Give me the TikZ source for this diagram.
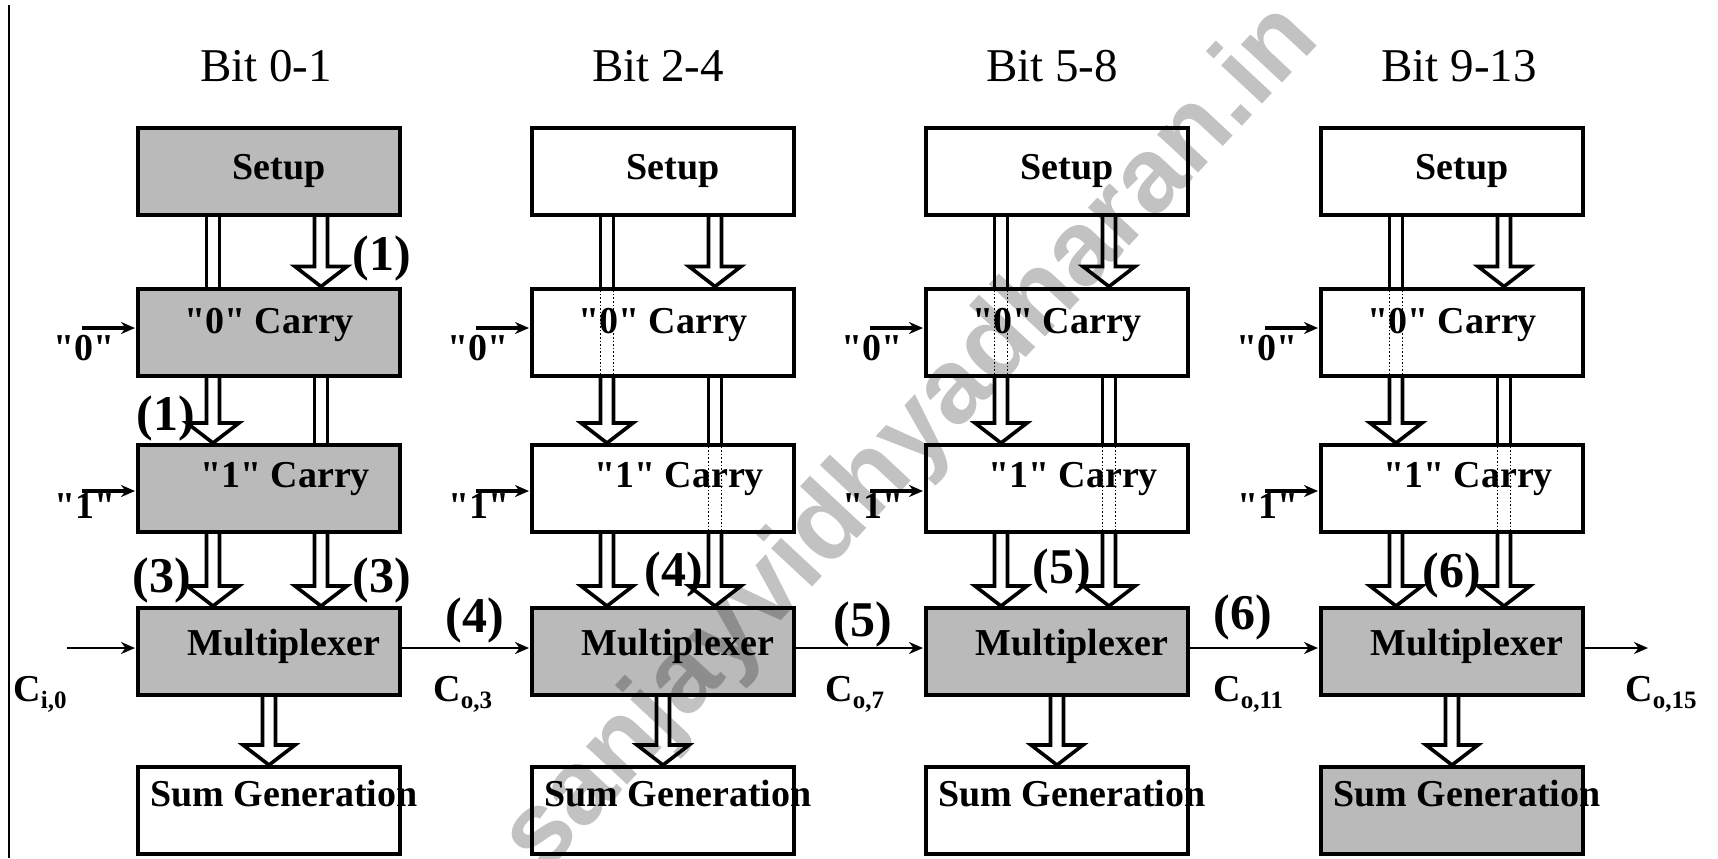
\documentclass[tikz,border=0pt]{standalone}
\usepackage{fontspec}
\setmainfont{Liberation Serif}[Ligatures=TeXOff]
\newfontfamily\wmfont{Liberation Sans}
\usetikzlibrary{calc,arrows.meta}
\newcommand{\csub}[1]{\raisebox{-3.5pt}{\fontsize{12.5}{12.5}\selectfont #1}}
\newcommand{\blockarr}[2]{%
  \draw[pipe] let \p1=(#1), \p2=(#2) in
    (\x1-3.25pt,\y1) -- (\x1-3.25pt,\y2+10pt) -- (\x1-13pt,\y2+10pt) -- (\x1,\y2)
    -- (\x1+13pt,\y2+10pt) -- (\x1+3.25pt,\y2+10pt) -- (\x1+3.25pt,\y1);}
\newcommand{\throughpipe}[3]{%
  \draw[#3] let \p1=(#1), \p2=(#2) in
    (\x1-3.25pt,\y1) -- (\x1-3.25pt,\y2) (\x1+3.25pt,\y1) -- (\x1+3.25pt,\y2);}
\begin{document}
\begin{tikzpicture}[x=0.5pt,y=-0.5pt,
  box/.style={draw=black, line width=2pt, minimum width=131pt, minimum height=43.5pt, inner sep=0pt, fill=white},
  shaded/.style={box, fill=black!27},
  boxtext/.style={font=\bfseries\fontsize{19}{19}\selectfont, anchor=base, inner sep=0pt},
  title/.style={font=\fontsize{23.5}{24}\selectfont, anchor=base, inner sep=0pt},
  num/.style={font=\bfseries\fontsize{25}{25}\selectfont, inner sep=0pt},
  inlabel/.style={font=\bfseries\fontsize{19}{19}\selectfont, anchor=base, inner sep=0pt},
  clabel/.style={font=\bfseries\fontsize{19}{19}\selectfont, anchor=base west, inner sep=0pt},
  pipe/.style={line width=1.8pt, line join=miter},
  wall/.style={line width=1.8pt},
  dots/.style={line width=0.8pt, densely dotted},
  chain/.style={line width=1.2pt, -{Stealth[length=7pt,width=6pt]}},
  inarrow/.style={line width=1.6pt, -{Stealth[length=7pt,width=6pt]}},
  wm/.style={font=\wmfont\bfseries\fontsize{53}{53}\selectfont, text=black, text opacity=0.24, inner sep=0pt}
]
\useasboundingbox (0,0) rectangle (1718,858);

% left rule
\coordinate (lt) at (9,5);
\coordinate (lb) at (9,858);
\draw[line width=1pt] (lt) -- (lb);

% titles
\node[title] (t1) at (266,81) {Bit 0-1};
\node[title] (t2) at (658,81) {Bit 2-4};
\node[title] (t3) at (1052,81) {Bit 5-8};
\node[title] (t4) at (1459,81) {Bit 9-13};

% boxes
\node[shaded] (s1) at (269,171.5) {};
\node[shaded] (z1) at (269,332) {};
\node[shaded] (o1) at (269,488.5) {};
\node[shaded] (m1) at (269,651.5) {};
\node[box]    (g1) at (269,810.5) {};

\node[box]    (s2) at (663,171.5) {};
\node[box]    (z2) at (663,332) {};
\node[box]    (o2) at (663,488.5) {};
\node[shaded] (m2) at (663,651.5) {};
\node[box]    (g2) at (663,810.5) {};

\node[box]    (s3) at (1057,171.5) {};
\node[box]    (z3) at (1057,332) {};
\node[box]    (o3) at (1057,488.5) {};
\node[shaded] (m3) at (1057,651.5) {};
\node[box]    (g3) at (1057,810.5) {};

\node[box]    (s4) at (1452,171.5) {};
\node[box]    (z4) at (1452,332) {};
\node[box]    (o4) at (1452,488.5) {};
\node[shaded] (m4) at (1452,651.5) {};
\node[shaded] (g4) at (1452,810.5) {};

\foreach \i in {1,...,4} {
  % box texts
  \node[boxtext] (st\i) at ($(s\i.center)+(10,7.5)$) {Setup};
  \node[boxtext] (zt\i) at ($(z\i.center)+(0,1)$) {"0" Carry};
  \node[boxtext] (ot\i) at ($(o\i.center)+(16,-1.5)$) {"1" Carry};
  \node[boxtext] (mt\i) at ($(m\i.center)+(15,3.5)$) {Multiplexer};
  \node[boxtext] (gt\i) at ($(g\i.center)+(15,-4)$) {Sum Generation};
  % inputs "0" and "1"
  \node[inlabel] (zl\i) at ($(z\i.west)+(-52,28)$) {"0"};
  \node[inlabel] (ol\i) at ($(o\i.west)+(-51,30)$) {"1"};
  \coordinate (za\i) at ($(z\i.west)+(-54,-4)$);
  \coordinate (oa\i) at ($(o\i.west)+(-54,2.5)$);
  \draw[inarrow] (za\i) -- ($(z\i.west)+(-1,-4)$);
  \draw[inarrow] (oa\i) -- ($(o\i.west)+(-1,2.5)$);
  % setup -> "0" carry
  \throughpipe{$(s\i.south)+(-56,0)$}{$(z\i.north)+(-56,0)$}{wall}
  \blockarr{$(s\i.south)+(52,0)$}{$(z\i.north)+(52,0)$}
  % "0" carry -> "1" carry
  \blockarr{$(z\i.south)+(-56,0)$}{$(o\i.north)+(-56,0)$}
  \throughpipe{$(z\i.south)+(52,0)$}{$(o\i.north)+(52,0)$}{wall}
  % "1" carry -> multiplexer
  \blockarr{$(o\i.south)+(-56,0)$}{$(m\i.north)+(-56,0)$}
  \blockarr{$(o\i.south)+(52,0)$}{$(m\i.north)+(52,0)$}
  % multiplexer -> sum generation
  \blockarr{$(m\i.south)+(0,0)$}{$(g\i.north)+(0,0)$}
}
% dotted continuation through white boxes
\foreach \i in {2,3,4} {
  \throughpipe{$(z\i.north)+(-56,0)$}{$(z\i.south)+(-56,0)$}{dots}
  \throughpipe{$(o\i.north)+(52,0)$}{$(o\i.south)+(52,0)$}{dots}
}

% carry chain
\coordinate (cin) at (67,648);
\coordinate (cout) at (1648,648);
\draw[chain] (cin) -- ($(m1.west)+(-1,-3.5)$);
\draw[chain] ($(m1.east)+(0,-3.5)$) -- ($(m2.west)+(-1,-3.5)$);
\draw[chain] ($(m2.east)+(0,-3.5)$) -- ($(m3.west)+(-1,-3.5)$);
\draw[chain] ($(m3.east)+(0,-3.5)$) -- ($(m4.west)+(-1,-3.5)$);
\draw[chain] ($(m4.east)+(0,-3.5)$) -- (cout);

\node[clabel] (c0) at (13,701) {C\csub{i,0}};
\node[clabel] (c3) at (433,701) {C\csub{o,3}};
\node[clabel] (c7) at (825,701) {C\csub{o,7}};
\node[clabel] (c11) at (1213,701) {C\csub{o,11}};
\node[clabel] (c15) at (1625,701) {C\csub{o,15}};

% step labels
\node[num] (n1a) at (382,258) {(1)};
\node[num] (n1b) at (166,418) {(1)};
\node[num] (n3a) at (162,580) {(3)};
\node[num] (n3b) at (382,580) {(3)};
\node[num] (n4a) at (475,620) {(4)};
\node[num] (n4b) at (674,574) {(4)};
\node[num] (n5a) at (863,624) {(5)};
\node[num] (n5b) at (1062,571) {(5)};
\node[num] (n6a) at (1243,617) {(6)};
\node[num] (n6b) at (1452,575) {(6)};

% watermark
\node[wm, rotate=47] (wmark) at (912,440) {sanjayvidhyadharan.in};
\end{tikzpicture}
\end{document}
